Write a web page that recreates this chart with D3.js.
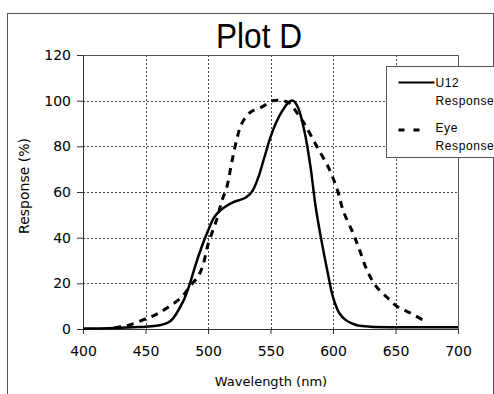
<!DOCTYPE html>
<html>
<head>
<meta charset="utf-8">
<script src="https://cdn.jsdelivr.net/npm/d3@7"></script>
<style>
  body { margin: 0; background: #fff; }
  svg { display: block; font-family: "DejaVu Sans", sans-serif; }
</style>
</head>
<body>
<svg id="chart" width="494" height="394"></svg>
<script>
// DATA
const xTicks = [400, 450, 500, 550, 600, 650, 700];
const yTicks = [0, 20, 40, 60, 80, 100, 120];

const u12Wavelength = [400, 420, 430, 440, 450, 460, 470, 480, 485, 490, 495, 500, 505, 510, 515, 520, 530, 535, 540, 545, 550, 555, 560, 565, 568, 572, 577, 582, 586, 590, 596, 600, 605, 610, 615, 620, 630, 650, 700];
const u12Response = [0.2, 0.3, 0.5, 0.8, 1, 1.5, 3.5, 12, 19, 28, 36, 43, 49, 52, 54, 55.5, 57.5, 60, 66, 75, 84, 91, 96, 99.5, 100, 97, 87, 71, 54, 41, 24, 14, 7, 4, 2.5, 1.5, 1, 0.8, 0.8];

const eyeWavelength = [425, 430, 437, 448, 459, 468, 479, 486, 492, 496, 500, 507, 511, 515, 519, 523, 527, 534, 544, 552, 560, 565, 572, 577, 586, 597, 604, 608, 616, 621, 627, 634, 643, 651, 662, 672, 675];
const eyeResponse = [0.5, 1, 1.7, 4, 6.5, 9.5, 14, 19, 23, 28, 37, 48, 56, 62, 73, 83, 90, 95, 97.5, 100, 100, 99, 94, 90, 81, 70, 60, 52, 42, 35, 26, 19, 14, 10, 7, 4, 3.5];

const legendLabels = [["U12", "Response"], ["Eye", "Response"]];

const svg = d3.select("#chart");
const margin = { top: 55, right: 36, bottom: 65, left: 83 };
const width = 494 - margin.left - margin.right;
const height = 394 - margin.top - margin.bottom;

// outer frame
svg.append("rect")
  .attr("x", 7.5).attr("y", 13.5)
  .attr("width", 486).attr("height", 400)
  .attr("fill", "none").attr("stroke", "#555");

svg.append("text")
  .attr("x", 259).attr("y", 48)
  .attr("text-anchor", "middle")
  .attr("font-family", "Liberation Sans, Arial, sans-serif")
  .attr("font-size", 35)
  .attr("textLength", 86).attr("lengthAdjust", "spacingAndGlyphs")
  .text("Plot D");

const g = svg.append("g").attr("transform", `translate(${margin.left},${margin.top})`);

const x = d3.scaleLinear().domain([400, 700]).range([0, width]);
const y = d3.scaleLinear().domain([0, 120]).range([height, 0]);

// grid
g.append("g").selectAll("line")
  .data(yTicks.slice(1, -1)).enter().append("line")
  .attr("x1", 0).attr("x2", width)
  .attr("y1", d => Math.round(y(d)) + 0.5).attr("y2", d => Math.round(y(d)) + 0.5)
  .attr("stroke", "#444").attr("stroke-dasharray", "2,2");
g.append("g").selectAll("line")
  .data(xTicks.slice(1, -1)).enter().append("line")
  .attr("x1", d => Math.round(x(d)) + 0.5).attr("x2", d => Math.round(x(d)) + 0.5)
  .attr("y1", 0).attr("y2", height)
  .attr("stroke", "#444").attr("stroke-dasharray", "2,2");

// plot border top/right
g.append("path")
  .attr("d", `M0,0.5H${width + 0.5}V${height}`)
  .attr("fill", "none").attr("stroke", "#555");

const xAxis = g.append("g").attr("transform", `translate(0,${height})`)
  .call(d3.axisBottom(x).tickValues(xTicks).tickSize(5).tickPadding(12));
const yAxis = g.append("g")
  .call(d3.axisLeft(y).tickValues(yTicks).tickSize(6).tickPadding(6));
[xAxis, yAxis].forEach(a => {
  a.selectAll("path, line").attr("stroke", "#333");
  a.selectAll("text").attr("font-size", 14).attr("fill", "#000")
    .attr("font-family", "DejaVu Sans, sans-serif");
});

const line = d3.line().x(d => x(d[0])).y(d => y(d[1])).curve(d3.curveCatmullRom);

g.append("path")
  .datum(d3.zip(eyeWavelength, eyeResponse))
  .attr("d", line)
  .attr("fill", "none").attr("stroke", "#000")
  .attr("stroke-width", 3).attr("stroke-dasharray", "7,6");

g.append("path")
  .datum(d3.zip(u12Wavelength, u12Response))
  .attr("d", line)
  .attr("fill", "none").attr("stroke", "#000")
  .attr("stroke-width", 2.5);

// axis titles
svg.append("text")
  .attr("x", 271).attr("y", 386)
  .attr("text-anchor", "middle").attr("font-size", 13)
  .text("Wavelength (nm)");
svg.append("text")
  .attr("transform", "translate(29,186) rotate(-90)")
  .attr("text-anchor", "middle").attr("font-size", 14)
  .text("Response (%)");

// legend
const legend = svg.append("g").attr("transform", "translate(386.5,66.5)");
legend.append("rect")
  .attr("width", 120).attr("height", 91)
  .attr("fill", "#fff").attr("stroke", "#555");
legend.append("line")
  .attr("x1", 12).attr("x2", 48).attr("y1", 16).attr("y2", 16)
  .attr("stroke", "#000").attr("stroke-width", 2);
legend.append("line")
  .attr("x1", 12).attr("x2", 33).attr("y1", 63.5).attr("y2", 63.5)
  .attr("stroke", "#000").attr("stroke-width", 3).attr("stroke-dasharray", "6,9");
legend.selectAll(".lab")
  .data(legendLabels).enter().append("text")
  .attr("class", "lab")
  .attr("x", 49)
  .attr("y", (d, i) => 20 + i * 45)
  .attr("font-family", "Liberation Sans, Arial, sans-serif")
  .attr("font-size", 12).attr("letter-spacing", 0.6)
  .each(function (d) {
    d3.select(this).selectAll("tspan").data(d).enter().append("tspan")
      .attr("x", 49).attr("dy", (t, j) => j ? 18 : 0).text(t => t);
  });
</script>
</body>
</html>
